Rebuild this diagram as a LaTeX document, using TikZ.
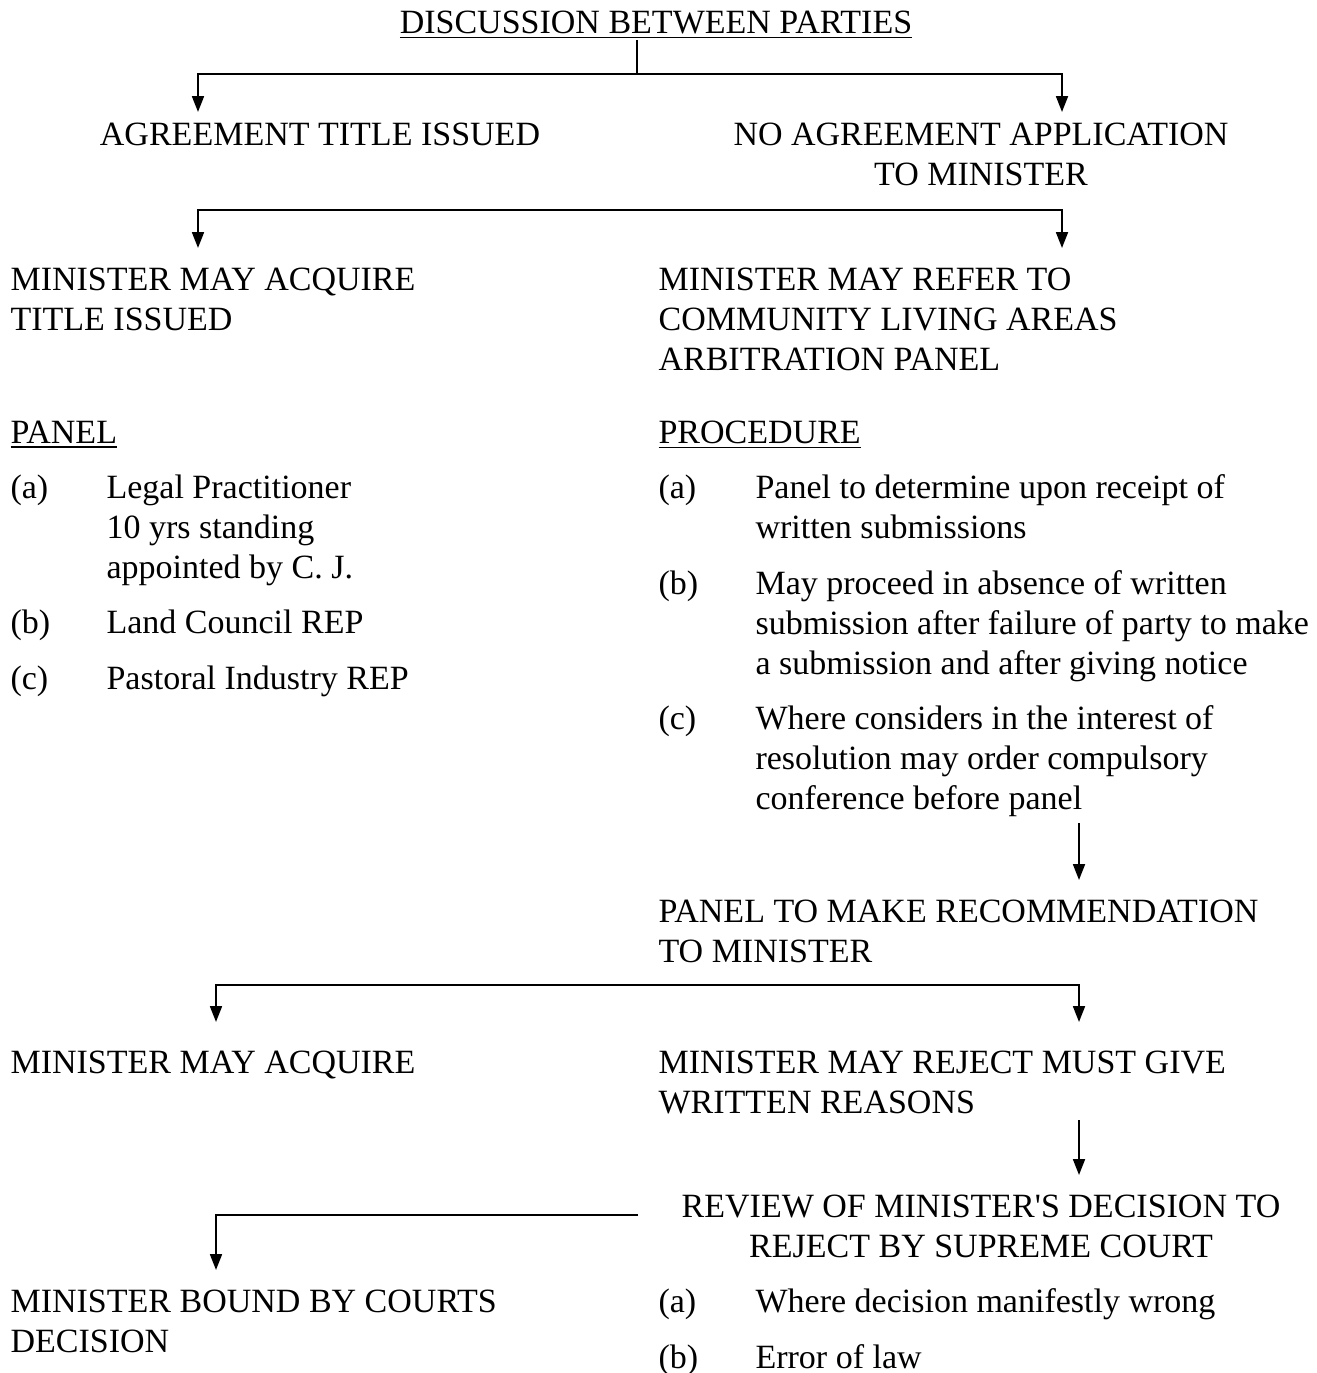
\documentclass[tikz,border=0pt]{standalone}
\usepackage{fontspec}
\setmainfont{Liberation Serif}
\usetikzlibrary{arrows.meta}
\tikzset{
  txt/.style={anchor=base west, inner sep=0pt, align=left},
  mid/.style={anchor=base, inner sep=0pt, align=center},
  wire/.style={line width=0.7pt},
  arrow/.style={-{Triangle[length=5.6pt, width=4.2pt]}, line width=0.7pt},
  bar/.style={{Triangle[length=5.6pt, width=4.2pt]}-{Triangle[length=5.6pt, width=4.2pt]}, line width=0.7pt}
}

\begin{document}
\begin{tikzpicture}[x=0.3529pt, y=-0.3529pt, font=\fontsize{12pt}{14.1pt}\selectfont]
  \useasboundingbox (0,0) rectangle (1316,1373);

  % multi-line nodes sit on the baseline of their last line
  \node[mid] (title) at (656,33) {\underline{DISCUSSION BETWEEN PARTIES}};
  \node[mid] (agree) at (320,145) {AGREEMENT TITLE ISSUED};
  \node[mid] (noagree) at (981,185) {NO AGREEMENT APPLICATION\\TO MINISTER};
  \node[txt] (acquire) at (10,330) {MINISTER MAY ACQUIRE\\TITLE ISSUED};
  \node[txt] (refer) at (658,370) {MINISTER MAY REFER TO\\COMMUNITY LIVING AREAS\\ARBITRATION PANEL};
  \node[txt] (panel) at (10,443) {\underline{PANEL}};
  \node[txt] (proc) at (658,443) {\underline{PROCEDURE}};

  % panel members
  \node[txt] (pa) at (10,498) {(a)};
  \node[txt] (pa-txt) at (106,578) {Legal Practitioner\\10 yrs standing\\appointed by C.\ J.};
  \node[txt] (pb) at (10,633) {(b)};
  \node[txt] (pb-txt) at (106,633) {Land Council REP};
  \node[txt] (pc) at (10,689) {(c)};
  \node[txt] (pc-txt) at (106,689) {Pastoral Industry REP};

  % procedure steps
  \node[txt] (qa) at (658,498) {(a)};
  \node[txt] (qa-txt) at (755,538) {Panel to determine upon receipt of\\written submissions};
  \node[txt] (qb) at (658,594) {(b)};
  \node[txt] (qb-txt) at (755,674) {May proceed in absence of written\\submission after failure of party to make\\a submission and after giving notice};
  \node[txt] (qc) at (658,729) {(c)};
  \node[txt] (qc-txt) at (755,809) {Where considers in the interest of\\resolution may order compulsory\\conference before panel};

  \node[txt] (recommend) at (658,962) {PANEL TO MAKE RECOMMENDATION\\TO MINISTER};
  \node[txt] (acquire2) at (10,1073) {MINISTER MAY ACQUIRE};
  \node[txt] (reject) at (658,1113) {MINISTER MAY REJECT MUST GIVE\\WRITTEN REASONS};
  \node[mid] (review) at (981,1257) {REVIEW OF MINISTER\textquotesingle S DECISION TO\\REJECT BY SUPREME COURT};
  \node[txt] (bound) at (10,1352) {MINISTER BOUND BY COURTS\\DECISION};

  % review grounds
  \node[txt] (ra) at (658,1312) {(a)};
  \node[txt] (ra-txt) at (755,1312) {Where decision manifestly wrong};
  \node[txt] (rb) at (658,1368) {(b)};
  \node[txt] (rb-txt) at (755,1368) {Error of law};

  % forks and arrow ends
  \coordinate (f1) at (637,74);
  \coordinate (t1) at (198,112);
  \coordinate (t2) at (1062,112);
  \coordinate (b2) at (637,210);
  \coordinate (t3) at (198,248);
  \coordinate (t4) at (1062,248);
  \coordinate (s5) at (1079,823);
  \coordinate (t5) at (1079,880);
  \coordinate (b3) at (637,985);
  \coordinate (t6) at (216,1022);
  \coordinate (t7) at (1079,1022);
  \coordinate (s8) at (1079,1120);
  \coordinate (t8) at (1079,1175);
  \coordinate (s9) at (638,1215);
  \coordinate (t9) at (216,1270);

  \draw[wire] (title.south -| f1) -- (f1);
  \draw[bar] (t1) |- (f1) -| (t2);
  \draw[bar] (t3) |- (b2) -| (t4);
  \draw[arrow] (s5) -- (t5);
  \draw[bar] (t6) |- (b3) -| (t7);
  \draw[arrow] (s8) -- (t8);
  \draw[arrow] (s9) -| (t9);
\end{tikzpicture}
\end{document}
